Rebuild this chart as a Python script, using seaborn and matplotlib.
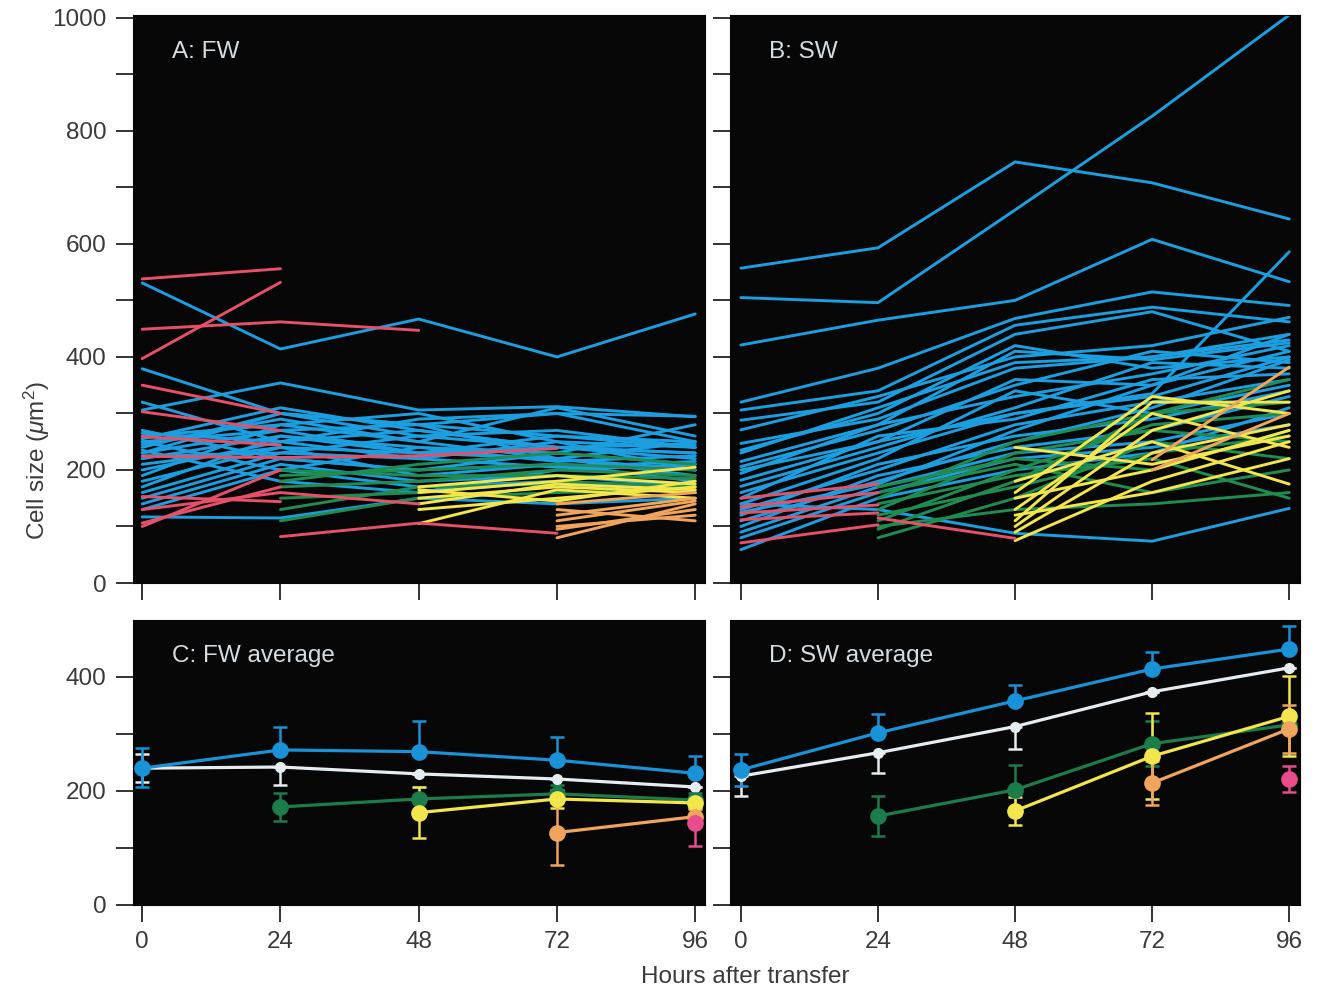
import numpy as np
import pandas as pd
import matplotlib
matplotlib.use("Agg")
import matplotlib.pyplot as plt
import seaborn as sns

hours = [0, 24, 48, 72, 96]
nan = np.nan

# ---- individual cells, FW (panel A) ----
fw_blue = [
    [531, 414, 467, 400, 476], [306, 354, 306, 312, 294], [379, 300, 280, 300, 250],
    [320, 250, 290, 300, 295], [255, 310, 270, 240, 230], [245, 290, 250, 310, 260],
    [260, 280, 300, 250, 200], [240, 300, 260, 270, 240], [230, 270, 280, 260, 250],
    [220, 260, 240, 230, 210], [200, 250, 270, 240, 220], [190, 280, 250, 220, 190],
    [180, 240, 230, 260, 240], [170, 260, 230, 220, 200], [160, 230, 260, 240, 245],
    [150, 220, 200, 210, 180], [140, 210, 180, 190, 170], [130, 200, 170, 180, 160],
    [117, 115, 150, 140, 150], [270, 220, 200, 230, 280], [250, 200, 240, 215, 225],
    [210, 240, 190, 210, 200], [235, 180, 160, 200, 210], [265, 250, 220, 250, 240],
    [230, 300, 280, 220, 250], [250, 270, 230, 240, 230], [225, 230, 220, 205, 215],
]
fw_green = [
    [nan, 170, 180, 200, 190], [nan, 150, 160, 180, 170], [nan, 190, 200, 210, 200],
    [nan, 130, 170, 175, 160], [nan, 110, 150, 160, 165], [nan, 180, 210, 230, 210],
    [nan, 200, 190, 190, 185],
]
fw_yellow = [
    [nan, nan, 160, 180, 205], [nan, nan, 150, 170, 160], [nan, nan, 170, 190, 175],
    [nan, nan, 105, 165, 150], [nan, nan, 130, 150, 170], [nan, nan, 165, 145, 180],
    [nan, nan, 140, 175, 165],
]
fw_orange = [
    [nan, nan, nan, 80, 140], [nan, nan, nan, 100, 120], [nan, nan, nan, 120, 150],
    [nan, nan, nan, 130, 110], [nan, nan, nan, 95, 130], [nan, nan, nan, 110, 145],
    [nan, nan, nan, 140, 160],
]
fw_red = [
    [538, 556, nan, nan, nan], [397, 532, nan, nan, nan], [449, 462, 447, nan, nan],
    [350, 300, nan, nan, nan], [303, 270, nan, nan, nan], [259, 244, nan, nan, nan],
    [224, 222, 225, 238, nan], [100, 200, nan, nan, nan], [106, 170, nan, nan, nan],
    [153, 144, nan, nan, nan], [nan, 82, 106, 88, nan], [130, 160, 140, nan, nan],
]

# ---- individual cells, SW (panel B) ----
sw_blue = [
    [557, 593, 745, 708, 644], [505, 496, 660, 826, 1005], [421, 465, 500, 608, 533],
    [320, 380, 468, 515, 491], [306, 340, 456, 488, 462], [288, 320, 440, 480, 410],
    [271, 330, 400, 420, 470], [247, 290, 380, 400, 440], [235, 300, 420, 380, 400],
    [206, 270, 350, 410, 390], [194, 280, 330, 370, 420], [182, 250, 360, 350, 410],
    [171, 240, 310, 390, 380], [160, 230, 300, 330, 400], [150, 260, 290, 360, 370],
    [140, 220, 340, 300, 350], [130, 200, 280, 320, 360], [120, 210, 260, 290, 340],
    [110, 180, 250, 310, 395], [100, 190, 240, 270, 330], [90, 170, 230, 250, 300],
    [80, 160, 220, 240, 280], [59, 150, 200, 230, 310], [140, 130, 88, 74, 132],
    [200, 250, 300, 335, 586], [230, 310, 390, 400, 430], [215, 280, 410, 395, 425],
    [125, 175, 270, 350, 440],
]
sw_green = [
    [nan, 80, 150, 250, 220], [nan, 95, 180, 300, 320], [nan, 110, 200, 280, 300],
    [nan, 120, 170, 230, 260], [nan, 130, 230, 270, 250], [nan, 140, 190, 220, 150],
    [nan, 150, 250, 300, 360], [nan, 160, 210, 160, 200], [nan, 100, 130, 140, 160],
    [nan, 170, 220, 200, 270],
]
sw_yellow = [
    [nan, nan, 75, 180, 250], [nan, nan, 90, 230, 280], [nan, nan, 110, 320, 320],
    [nan, nan, 130, 300, 240], [nan, nan, 150, 200, 270], [nan, nan, 160, 330, 300],
    [nan, nan, 180, 250, 175], [nan, nan, 240, 210, 260], [nan, nan, 120, 160, 220],
    [nan, nan, 100, 270, 340],
]
sw_orange = [[nan, nan, nan, 218, 382], [nan, nan, nan, 200, 300]]
sw_red = [
    [150, 175, nan, nan, nan], [124, 138, nan, nan, nan], [112, 124, nan, nan, nan],
    [71, 103, nan, nan, nan], [nan, 115, 79, nan, nan], [135, 160, nan, nan, nan],
]

# ---- averages: mean, lower err, upper err ----
fw_avg = {
    "white":   ([240, 242, 230, 221, 207], [25, 32, 0, 0, 0], [25, 0, 0, 0, 0]),
    "blue":    ([240, 272, 269, 254, 231], [33, 0, 0, 0, 0], [35, 41, 53, 41, 30]),
    "green":   ([nan, 172, 186, 195, 184], [0, 25, 21, 15, 12], [0, 25, 21, 15, 12]),
    "yellow":  ([nan, nan, 162, 186, 179], [0, 0, 45, 15, 10], [0, 0, 45, 15, 10]),
    "orange":  ([nan, nan, nan, 127, 155], [0, 0, 0, 57, 15], [0, 0, 0, 57, 15]),
    "magenta": ([nan, nan, nan, nan, 143], [0, 0, 0, 0, 40], [0, 0, 0, 0, 40]),
}
sw_avg = {
    "white":   ([226, 267, 313, 374, 416], [35, 36, 40, 0, 0], [0, 0, 0, 0, 0]),
    "blue":    ([237, 302, 358, 414, 449], [28, 0, 0, 0, 0], [28, 33, 28, 30, 41]),
    "green":   ([nan, 156, 202, 283, 316], [0, 35, 44, 40, 0], [0, 35, 44, 40, 0]),
    "yellow":  ([nan, nan, 165, 261, 331], [0, 0, 25, 75, 70], [0, 0, 25, 75, 70]),
    "orange":  ([nan, nan, nan, 214, 309], [0, 0, 0, 38, 42], [0, 0, 0, 38, 42]),
    "magenta": ([nan, nan, nan, nan, 221], [0, 0, 0, 0, 22], [0, 0, 0, 0, 22]),
}

colors = {
    "blue": "#1c9fe0", "red": "#e65068", "green": "#1f8c52", "yellow": "#f2e64c",
    "orange": "#f0a45c", "white": "#e6edf0", "magenta": "#e84c8c",
}
avg_colors = dict(colors, blue="#1a92d8", green="#1d7c4c")
hue_order = ["blue", "green", "yellow", "orange", "red"]

sns.set_style("white")
plt.rcParams["font.family"] = ["Liberation Sans", "DejaVu Sans"]
plt.rcParams["mathtext.fontset"] = "custom"
plt.rcParams["mathtext.rm"] = "Liberation Sans"
plt.rcParams["mathtext.it"] = "Liberation Sans:italic"

txt = "#3a3a3a"
fig = plt.figure(figsize=(13.3, 9.91), dpi=100)
axA = fig.add_axes([0.100, 0.4117, 0.4301, 0.5732])
axB = fig.add_axes([0.5489, 0.4117, 0.4286, 0.5732])
axC = fig.add_axes([0.100, 0.0868, 0.4301, 0.2876])
axD = fig.add_axes([0.5489, 0.0868, 0.4286, 0.2876])


def to_long(groups):
    rows = []
    uid = 0
    for name, lines in groups.items():
        for line in lines:
            for h, v in zip(hours, line):
                if not np.isnan(v):
                    rows.append({"cell": uid, "hour": h, "size": v, "group": name})
            uid += 1
    return pd.DataFrame(rows)


fw_df = to_long({"blue": fw_blue, "green": fw_green, "yellow": fw_yellow,
                 "orange": fw_orange, "red": fw_red})
sw_df = to_long({"blue": sw_blue, "green": sw_green, "yellow": sw_yellow,
                 "orange": sw_orange, "red": sw_red})

for ax, df in [(axA, fw_df), (axB, sw_df)]:
    sns.lineplot(data=df, x="hour", y="size", hue="group", units="cell",
                 estimator=None, hue_order=hue_order, palette=colors,
                 lw=2.1, legend=False, ax=ax)

for ax, avg in [(axC, fw_avg), (axD, sw_avg)]:
    for name, (mean, lo, hi) in avg.items():
        mean = np.array(mean, float)
        ok = ~np.isnan(mean)
        x = np.array(hours)[ok]
        yerr = [np.array(lo)[ok], np.array(hi)[ok]]
        small = name == "white"
        ax.errorbar(x, mean[ok], yerr=yerr, color=avg_colors[name], lw=2.3,
                    marker="o", ms=7 if small else 11, capsize=5, capthick=1.8,
                    elinewidth=1.8, mec=avg_colors[name])

panel_text = [(axA, "A: FW", 0.935), (axB, "B: SW", 0.935),
              (axC, "C: FW average", 0.875), (axD, "D: SW average", 0.875)]
for ax, label, ty in panel_text:
    ax.set_facecolor("#070707")
    for s in ax.spines.values():
        s.set_color("#070707")
    ax.text(0.068, ty, label, transform=ax.transAxes, color="#d6dde2",
            fontsize=17.5, va="center", ha="left")
    ax.set_xticks(hours)
    ax.tick_params(which="both", direction="out", length=12, width=1.4,
                   color="#333333", bottom=True, left=True)
    ax.tick_params(labelsize=17.5, labelcolor=txt, pad=7)
    ax.set_xlabel("")
    ax.set_ylabel("")

for ax in (axA, axB):
    ax.set_ylim(0, 1005)
    ax.set_yticks(range(0, 1001, 200))
    ax.set_yticks(range(100, 1000, 200), minor=True)
    ax.tick_params(labelbottom=False)
for ax in (axC, axD):
    ax.set_ylim(0, 500)
    ax.set_yticks([0, 200, 400])
    ax.set_yticks([100, 300], minor=True)
for ax in (axA, axC):
    ax.set_xlim(-1.6, 97.7)
for ax in (axB, axD):
    ax.set_xlim(-1.9, 97.9)
    ax.tick_params(labelleft=False)

fig.text(0.028, 0.535, "Cell size ($\\mu$m$^2$)", rotation=90, fontsize=17.5,
         color=txt, ha="center", va="center")
fig.text(0.56, 0.014, "Hours after transfer", fontsize=17.5, color=txt,
         ha="center", va="center")

fig.savefig("out.png", dpi=100, facecolor="white")
